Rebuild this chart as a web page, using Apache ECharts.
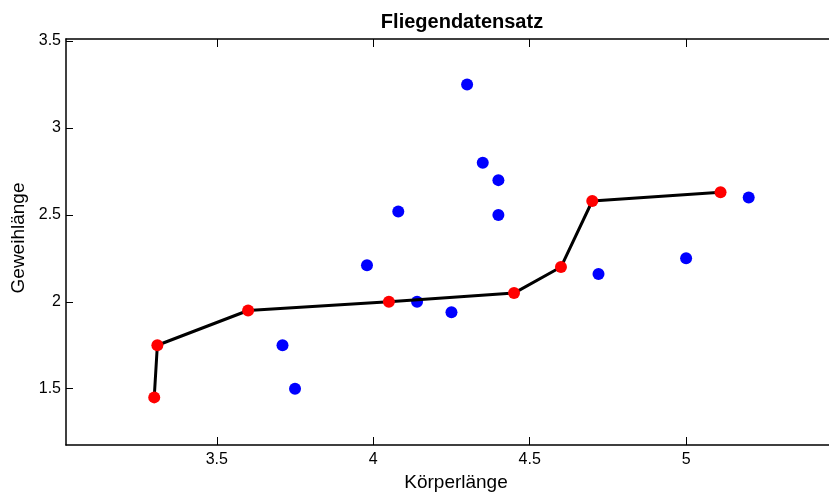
<!DOCTYPE html>
<html>
<head>
<meta charset="utf-8">
<script src="https://cdn.jsdelivr.net/npm/echarts@6/dist/echarts.min.js"></script>
<style>
  html, body { margin: 0; padding: 0; background: #fff; }
  #chart { width: 829px; height: 494px; }
</style>
</head>
<body>
<div id="chart"></div>
<script>
// Fly measurements: body length vs. antler length
const titleText = 'Fliegendatensatz';
const xName = 'Körperlänge';
const yName = 'Geweihlänge';

// individual samples (blue)
const sampleBody   = [4.30, 4.35, 4.40, 4.40, 4.08, 3.98, 4.14, 4.25, 3.71, 3.75, 4.72, 5.00, 5.20];
const sampleAntler = [3.25, 2.80, 2.70, 2.50, 2.52, 2.21, 2.00, 1.94, 1.75, 1.50, 2.16, 2.25, 2.60];

// connected path (red points, black line)
const pathBody   = [3.30, 3.31, 3.60, 4.05, 4.45, 4.60, 4.70, 5.11];
const pathAntler = [1.45, 1.75, 1.95, 2.00, 2.05, 2.20, 2.58, 2.63];

// tick positions
const xTicks = [3.5, 4, 4.5, 5];
const yTicks = [1.5, 2, 2.5, 3, 3.5];

const xRange = [3.018, 5.511];
const yRange = [1.176, 3.512];

const fontFamily = '"Liberation Sans", Arial, Helvetica, sans-serif';

const zip = (a, b) => a.map((v, i) => [v, b[i]]);

const chart = echarts.init(document.getElementById('chart'), null, { renderer: 'canvas' });

const axisLine = { show: true, onZero: false, lineStyle: { color: '#000', width: 1.5 } };

chart.setOption({
  animation: false,
  backgroundColor: '#fff',
  title: {
    text: titleText,
    left: 457, top: 7, textAlign: 'center',
    textStyle: { fontFamily, fontSize: 20, fontWeight: 'bold', color: '#000' }
  },
  grid: { left: 66, top: 39, width: 780, height: 406, containLabel: false, outerBoundsMode: 'none' },
  xAxis: [
    {
      type: 'value', position: 'bottom', min: xRange[0], max: xRange[1],
      name: xName, nameLocation: 'middle', nameGap: 24,
      nameTextStyle: { fontFamily, fontSize: 19, color: '#000' },
      axisLine,
      axisTick: { show: true, inside: true, length: 8, customValues: xTicks, lineStyle: { color: '#000', width: 1 } },
      axisLabel: { show: true, customValues: xTicks, margin: 7, fontFamily, fontSize: 16, color: '#000' },
      splitLine: { show: false }
    },
    {
      type: 'value', position: 'top', min: xRange[0], max: xRange[1],
      axisLine,
      axisTick: { show: true, inside: true, length: 8, customValues: xTicks, lineStyle: { color: '#000', width: 1 } },
      axisLabel: { show: false },
      splitLine: { show: false }
    }
  ],
  yAxis: [
    {
      type: 'value', position: 'left', min: yRange[0], max: yRange[1],
      name: yName, nameLocation: 'middle', nameGap: 36, nameRotate: 90,
      nameTextStyle: { fontFamily, fontSize: 19, color: '#000', padding: [0, 0, 0, 8] },
      axisLine,
      axisTick: { show: true, inside: true, length: 7, customValues: yTicks, lineStyle: { color: '#000', width: 1 } },
      axisLabel: { show: true, customValues: yTicks, margin: 5, fontFamily, fontSize: 16, color: '#000' },
      splitLine: { show: false }
    }
  ],
  series: [
    {
      type: 'scatter', xAxisIndex: 0, yAxisIndex: 0,
      data: zip(sampleBody, sampleAntler),
      symbol: 'circle', symbolSize: 12,
      itemStyle: { color: '#0000ff', opacity: 1 }
    },
    {
      type: 'line', xAxisIndex: 0, yAxisIndex: 0,
      data: zip(pathBody, pathAntler),
      symbol: 'circle', symbolSize: 12, showSymbol: true,
      lineStyle: { color: '#000', width: 3 },
      itemStyle: { color: '#ff0000', borderWidth: 0, opacity: 1 },
      z: 3
    }
  ]
});
</script>
</body>
</html>
